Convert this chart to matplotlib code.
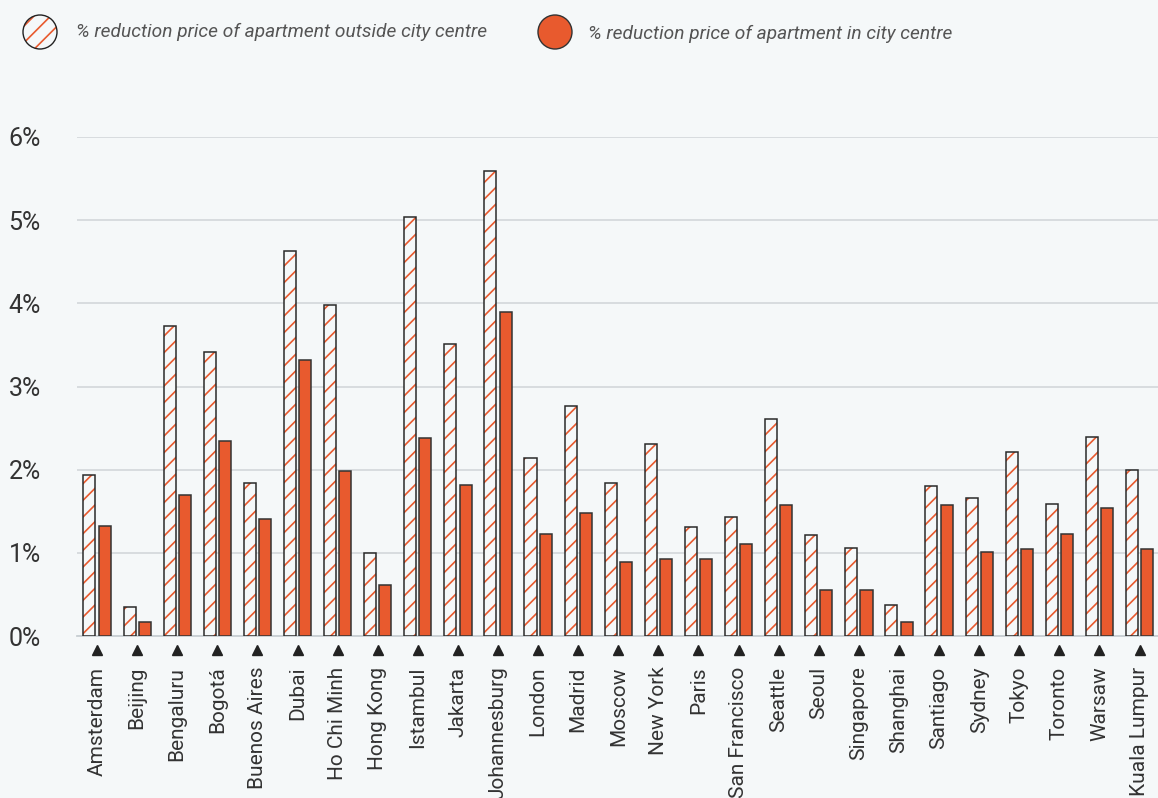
import matplotlib.pyplot as plt
from matplotlib.patches import Ellipse
import numpy as np

plt.rcParams['font.family'] = ['Roboto', 'DejaVu Sans']
plt.rcParams['hatch.linewidth'] = 1.2

# Data (% reduction)
cities = ["Amsterdam", "Beijing", "Bengaluru", "Bogotá", "Buenos Aires", "Dubai",
          "Ho Chi Minh", "Hong Kong", "Istambul", "Jakarta", "Johannesburg", "London",
          "Madrid", "Moscow", "New York", "Paris", "San Francisco", "Seattle", "Seoul",
          "Singapore", "Shanghai", "Santiago", "Sydney", "Tokyo", "Toronto", "Warsaw",
          "Kuala Lumpur"]
outside_centre = [1.94, 0.35, 3.73, 3.41, 1.84, 4.63, 3.98, 1.00, 5.04, 3.51, 5.59, 2.14,
                  2.76, 1.84, 2.31, 1.31, 1.43, 2.61, 1.21, 1.06, 0.37, 1.80, 1.66, 2.21,
                  1.59, 2.39, 2.00]
in_centre = [1.32, 0.17, 1.69, 2.34, 1.41, 3.32, 1.98, 0.61, 2.38, 1.81, 3.89, 1.23,
             1.48, 0.89, 0.93, 0.93, 1.11, 1.57, 0.55, 0.55, 0.17, 1.57, 1.01, 1.05,
             1.23, 1.54, 1.05]
yticks = [0, 1, 2, 3, 4, 5, 6]

bg = "#f5f8f9"
orange = "#e85a2e"
text_col = "#333333"

fig = plt.figure(figsize=(11.58, 7.98), dpi=100, facecolor=bg)
ax = fig.add_axes([77 / 1158, 162 / 798, 1 - 77 / 1158, (636 - 137) / 798])
ax.set_facecolor(bg)

x = np.arange(len(cities))
w = 0.3
off = 0.19

# hatched bars: red hatch, then dark outline on top
ax.bar(x - off, outside_centre, w, facecolor=bg, edgecolor=orange, hatch="//", linewidth=0, zorder=3)
ax.bar(x - off, outside_centre, w, fill=False, edgecolor="#2a2a2a", linewidth=1.1, zorder=4)
ax.bar(x + off, in_centre, w, color=orange, edgecolor="#333333", linewidth=1.1, zorder=3)

ax.set_xlim(-0.5, 26.46)
ax.set_ylim(0, 6)
ax.set_yticks(yticks)
ax.set_yticklabels([f"{t}%" for t in yticks], fontsize=18, color=text_col)
ax.yaxis.grid(True, color="#d5dadd", linewidth=1.3, zorder=0)
ax.tick_params(axis="y", length=0, pad=26)

ax.set_xticks(x)
ax.set_xticklabels(cities, rotation=90, fontsize=15, color=text_col, va="top")
ax.tick_params(axis="x", length=0, pad=22)

# small triangle markers below each group
ax.plot(x, [-0.17] * len(x), linestyle="none", marker="^", markersize=6.5,
        color="#222222", clip_on=False, zorder=5)

for s in ["top", "right", "left"]:
    ax.spines[s].set_visible(False)
ax.spines["bottom"].set_color("#c8cfd3")
ax.spines["bottom"].set_linewidth(1.3)

# legend drawn by hand with circles
W, H = 1158, 798
r = 17
e1 = Ellipse((40 / W, 1 - 32 / H), 2 * r / W, 2 * r / H, transform=fig.transFigure,
             facecolor=bg, edgecolor=orange, hatch="//", linewidth=0)
e1b = Ellipse((40 / W, 1 - 32 / H), 2 * r / W, 2 * r / H, transform=fig.transFigure,
              fill=False, edgecolor="#222222", linewidth=1.0)
e2 = Ellipse((555 / W, 1 - 32 / H), 2 * r / W, 2 * r / H, transform=fig.transFigure,
             facecolor=orange, edgecolor="#333333", linewidth=1.0)
for e in (e1, e1b, e2):
    fig.add_artist(e)
fig.text(76 / W, 1 - 32 / H, "% reduction price of apartment outside city centre",
         fontsize=13.8, style="italic", color="#555555", va="center")
fig.text(588 / W, 1 - 34 / H, "% reduction price of apartment in city centre",
         fontsize=13.8, style="italic", color="#555555", va="center")

fig.savefig("out.png", dpi=100, facecolor=bg)
